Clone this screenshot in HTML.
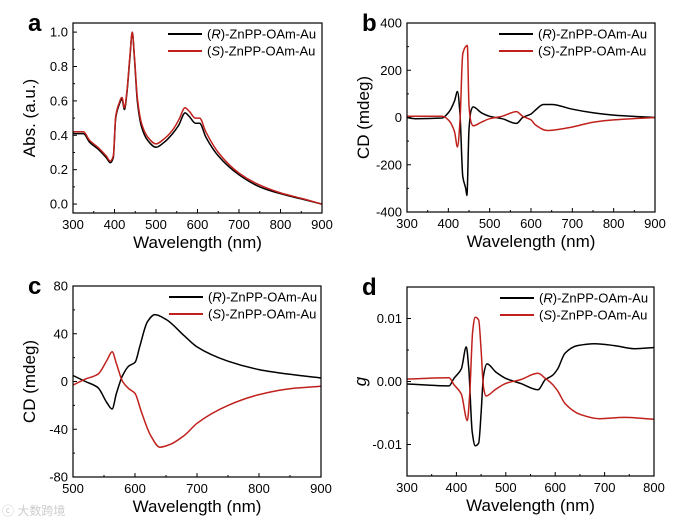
<!DOCTYPE html>
<html><head><meta charset="utf-8"><style>
body{margin:0;background:#fff;width:700px;height:523px;overflow:hidden}
svg{font-family:"Liberation Sans",Arial,sans-serif}
</style></head><body>
<svg id="fig" width="700" height="523" viewBox="0 0 700 523" xmlns="http://www.w3.org/2000/svg">
<text x="2" y="515" font-size="12" fill="#ccc" font-family="Liberation Sans, Noto Sans CJK SC, sans-serif">ⓒ 大数跨境</text>
</svg>
<script>
// ---- data arrays ----
const aR=[[300,0.41],[325,0.41],[340,0.36],[360,0.32],[380,0.27],[390,0.24],[397,0.27],[403,0.5],[410,0.57],[418,0.61],[424,0.55],[430,0.65],[437,0.85],[443,1.0],[448,0.85],[455,0.6],[465,0.45],[480,0.37],[500,0.33],[520,0.36],[540,0.41],[555,0.46],[570,0.53],[580,0.51],[595,0.47],[605,0.47],[620,0.39],[650,0.28],[700,0.17],[750,0.10],[800,0.06],[850,0.03],[900,0.0]];
const aS=[[300,0.42],[325,0.42],[340,0.37],[360,0.33],[380,0.28],[390,0.25],[397,0.28],[403,0.51],[410,0.58],[418,0.62],[424,0.56],[430,0.66],[437,0.86],[443,1.0],[448,0.86],[455,0.62],[465,0.47],[480,0.39],[500,0.35],[520,0.38],[540,0.43],[555,0.49],[570,0.56],[580,0.54],[595,0.50],[605,0.50],[620,0.42],[650,0.30],[700,0.18],[750,0.11],[800,0.065],[850,0.033],[900,0.0]];
const bR=[[300,0],[320,-5],[385,-2],[400,20],[415,70],[422,110],[428,20],[435,-250],[442,-300],[445,-330],[450,-50],[455,30],[460,45],[480,20],[500,5],[530,-5],[565,-25],[580,0],[600,15],[610,30],[630,55],[650,55],[700,35],[750,20],[800,10],[900,0]];
const bS=[[300,5],[385,5],[400,-10],[415,-60],[422,-125],[428,-20],[435,270],[442,300],[446,305],[450,50],[455,-20],[460,-35],[480,-20],[500,-5],[530,5],[565,25],[580,5],[600,-10],[610,-30],[640,-55],[660,-52],[700,-40],[750,-20],[800,-10],[900,0]];
const cR=[[500,5],[520,0],[540,-5],[555,-18],[563,-23],[570,-10],[580,5],[590,13],[600,16],[608,30],[620,50],[632,56],[650,52],[680,38],[700,29],[750,17],[800,10],[850,6],[900,3]];
const cS=[[500,-3],[520,2],[540,6],[555,18],[563,25],[570,15],[580,0],[590,-6],[600,-10],[610,-25],[625,-45],[640,-55],[655,-53],[680,-45],[700,-35],[750,-20],[800,-11],[850,-6],[900,-4]];
const dR=[[300,-0.0004],[385,-0.0007],[395,0.0005],[410,0.002],[420,0.0055],[425,0.002],[432,-0.008],[438,-0.0102],[445,-0.0098],[450,-0.005],[455,0.001],[462,0.0028],[480,0.0015],[500,0.0005],[530,-0.0003],[565,-0.0013],[580,0.0003],[595,0.001],[605,0.002],[620,0.0045],[645,0.0057],[680,0.006],[720,0.0057],[760,0.0052],[800,0.0054]];
const dS=[[300,0.0004],[385,0.0006],[395,-0.0005],[410,-0.002],[422,-0.0062],[427,-0.002],[433,0.008],[438,0.0102],[445,0.0098],[450,0.005],[455,-0.001],[460,-0.0023],[480,-0.0012],[500,-0.0003],[530,0.0003],[565,0.0013],[580,0.0005],[595,-0.0005],[605,-0.0015],[620,-0.0035],[650,-0.0052],[690,-0.0059],[740,-0.0057],[800,-0.006]];
const xTicksA=[300,400,500,600,700,800,900];
const xTicksC=[500,600,700,800,900];
const xTicksD=[300,400,500,600,700,800];
const yTicksA=[0,0.2,0.4,0.6,0.8,1.0];
const yLabelsA=["0.0","0.2","0.4","0.6","0.8","1.0"];
const yTicksB=[-400,-200,0,200,400];
const yTicksC=[-80,-40,0,40,80];
const yTicksD=[-0.01,0,0.01];
const yLabelsD=["-0.01","0.00","0.01"];

const NS="http://www.w3.org/2000/svg";
const svg=document.getElementById('fig');
function el(tag,attrs,parent,txt){const e=document.createElementNS(NS,tag);for(const k in attrs)e.setAttribute(k,attrs[k]);if(txt!==undefined)e.textContent=txt;(parent||svg).appendChild(e);return e;}
// monotone cubic path
function monoPath(P){
  const n=P.length;if(n<2)return'';
  const dx=[],m=[],t=[];
  for(let i=0;i<n-1;i++){dx[i]=P[i+1][0]-P[i][0];m[i]=(P[i+1][1]-P[i][1])/dx[i];}
  t[0]=m[0];t[n-1]=m[n-2];
  for(let i=1;i<n-1;i++){t[i]=(m[i-1]*m[i]<=0)?0:3*(dx[i-1]+dx[i])/((2*dx[i]+dx[i-1])/m[i-1]+(dx[i]+2*dx[i-1])/m[i]);}
  let d='M'+P[0][0].toFixed(1)+','+P[0][1].toFixed(1);
  for(let i=0;i<n-1;i++){const h=dx[i]/3;
    d+='C'+(P[i][0]+h).toFixed(1)+','+(P[i][1]+t[i]*h).toFixed(1)+' '+(P[i+1][0]-h).toFixed(1)+','+(P[i+1][1]-t[i+1]*h).toFixed(1)+' '+P[i+1][0].toFixed(1)+','+P[i+1][1].toFixed(1);}
  return d;
}
function panel(p){
  const g=el('g',{});
  
  
  const sx=v=>p.L+(v-p.x0)/(p.x1-p.x0)*(p.R-p.L);
  const sy=v=>p.B-(v-p.y0)/(p.y1-p.y0)*(p.B-p.T);
  const lt=el('text',{x:p.L-45,y:p.T+8,'font-size':24,'font-weight':'bold'},g,p.id);
  
  
  p.xt.forEach((v,i)=>{const x=sx(v);
    el('line',{x1:x,x2:x,y1:p.B,y2:p.B-4,stroke:'#000'},g);
    if(i<p.xt.length-1){const xm=sx(v+(p.xt[1]-p.xt[0])/2);el('line',{x1:xm,x2:xm,y1:p.B,y2:p.B-2,stroke:'#000'},g);}
    const t=el('text',{x:x,y:p.B+16,'font-size':13,'text-anchor':'middle'},g,String(v));
    
    
  });
  p.yt.forEach((v,i)=>{const y=sy(v);
    el('line',{x1:p.L,x2:p.L+4,y1:y,y2:y,stroke:'#000'},g);
    if(i<p.yt.length-1){const ym=sy(v+(p.yt[1]-p.yt[0])/2);el('line',{x1:p.L,x2:p.L+2,y1:ym,y2:ym,stroke:'#000'},g);}
    const t=el('text',{x:p.L-5,y:y+4.5,'font-size':13,'text-anchor':'end'},g,p.yl?p.yl[i]:String(v));
    
    
  });
  [[p.r,'#000'],[p.s,'#c0211c']].forEach((ser,k)=>{
    const pts=ser[0].map(pt=>[sx(pt[0]),sy(pt[1])]);
    const path=el('path',{d:monoPath(pts),fill:'none',stroke:ser[1],'stroke-width':1.5,'stroke-linejoin':'round'},g);
    
    
  });
  const fr=el('rect',{x:p.L,y:p.T,width:p.R-p.L,height:p.B-p.T,fill:'none',stroke:'#000','stroke-width':1.2},g);
  
  
  [['R','#000',0],['S','#c0211c',1]].forEach(l=>{
    const y=p.T+11+l[2]*17;
    const ln=el('line',{x1:p.lx,x2:p.lx+34,y1:y,y2:y,stroke:l[1],'stroke-width':2},g);
    
    
    const t=el('text',{x:p.lx+39,y:y+4.5,'font-size':13},g);
    
    
    el('tspan',{},t,'(');el('tspan',{'font-style':'italic'},t,l[0]);el('tspan',{},t,')-ZnPP-OAm-Au');
  });
  const xt=el('text',{x:(p.L+p.R)/2,y:p.B+35,'font-size':17,'text-anchor':'middle'},g,'Wavelength (nm)');
  
  
  const cy=(p.T+p.B)/2;
  const yt=el('text',{x:p.yx,y:cy,'font-size':17,'text-anchor':'middle',transform:'rotate(-90 '+p.yx+' '+cy+')','font-style':p.yi?'italic':'normal'},g,p.ytitle);
  
  
}
panel({id:'a',L:73,R:322,T:23,B:213,x0:300,x1:900,y0:-0.052,y1:1.053,xt:xTicksA,yt:yTicksA,yl:yLabelsA,r:aR,s:aS,lx:168,yx:35,ytitle:'Abs. (a.u.)'});
panel({id:'b',L:407,R:655,T:23,B:212,x0:300,x1:900,y0:-400,y1:400,xt:xTicksA,yt:yTicksB,r:bR,s:bS,lx:499,yx:369,ytitle:'CD (mdeg)'});
panel({id:'c',L:73,R:321,T:286,B:477,x0:500,x1:900,y0:-80,y1:80,xt:xTicksC,yt:yTicksC,r:cR,s:cS,lx:169,yx:35,ytitle:'CD (mdeg)'});
panel({id:'d',L:407,R:654,T:287,B:476,x0:300,x1:800,y0:-0.015,y1:0.015,xt:xTicksD,yt:yTicksD,yl:yLabelsD,r:dR,s:dS,lx:500,yx:366,ytitle:'g',yi:true});
</script>
</body></html>
